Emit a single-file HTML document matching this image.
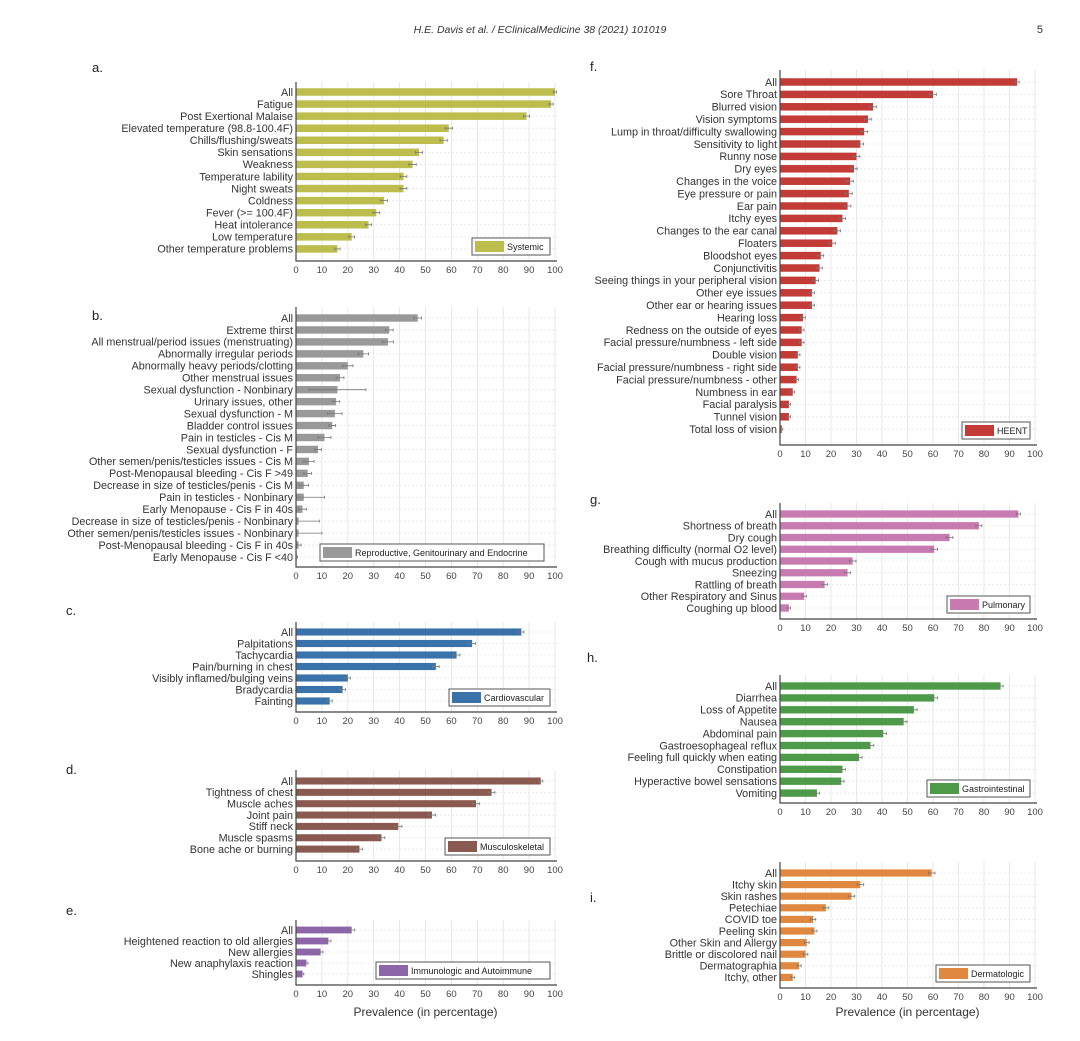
<!DOCTYPE html>
<html><head><meta charset="utf-8"><style>
html,body{margin:0;padding:0;background:#fff;width:1080px;height:1041px;overflow:hidden}
svg{display:block;font-family:"Liberation Sans",sans-serif}
</style></head><body>
<svg id="fig" width="1080" height="1041" viewBox="0 0 1080 1041">
<text x="540" y="33" text-anchor="middle" font-size="10.5" font-style="italic" fill="#333">H.E. Davis et al. / EClinicalMedicine 38 (2021) 101019</text>
<text x="1043" y="33" text-anchor="end" font-size="11" fill="#333">5</text>
</svg>
<script>
// ---- data ----
const aCats=["All","Fatigue","Post Exertional Malaise","Elevated temperature (98.8-100.4F)","Chills/flushing/sweats","Skin sensations","Weakness","Temperature lability","Night sweats","Coldness","Fever (>= 100.4F)","Heat intolerance","Low temperature","Other temperature problems"];
const aVals=[100,98.5,89,59,57,47.5,45,41.5,41.5,34,31,28,21.5,16];
const aErr=[0.6,0.8,1.2,1.4,1.4,1.4,1.4,1.3,1.3,1.3,1.3,1.2,1.1,1];
const bCats=["All","Extreme thirst","All menstrual/period issues (menstruating)","Abnormally irregular periods","Abnormally heavy periods/clotting","Other menstrual issues","Sexual dysfunction - Nonbinary","Urinary issues, other","Sexual dysfunction - M","Bladder control issues","Pain in testicles - Cis M","Sexual dysfunction - F","Other semen/penis/testicles issues - Cis M","Post-Menopausal bleeding - Cis F >49","Decrease in size of testicles/penis - Cis M","Pain in testicles - Nonbinary","Early Menopause - Cis F in 40s","Decrease in size of testicles/penis - Nonbinary","Other semen/penis/testicles issues - Nonbinary","Post-Menopausal bleeding - Cis F in 40s","Early Menopause - Cis F <40"];
const bVals=[47,36,35.5,26,20,17,16,15.5,15,14,11,8.5,5,4.5,3,3,2.5,1,1,1,0.3];
const bErr=[1.5,1.5,2.2,2,2,1.5,11,1.3,2.8,1.3,2.5,1.3,2,1.5,1.8,8,1.5,8,9,1,0.3];
const cCats=["All","Palpitations","Tachycardia","Pain/burning in chest","Visibly inflamed/bulging veins","Bradycardia","Fainting"];
const cVals=[87,68,62,54,20,18,13];
const cErr=[1,1.3,1.3,1.3,1.1,1.1,1];
const dCats=["All","Tightness of chest","Muscle aches","Joint pain","Stiff neck","Muscle spasms","Bone ache or burning"];
const dVals=[94.5,75.5,69.5,52.5,39.5,33,24.5];
const dErr=[0.8,1.3,1.3,1.4,1.4,1.3,1.2];
const eCats=["All","Heightened reaction to old allergies","New allergies","New anaphylaxis reaction","Shingles"];
const eVals=[21.5,12.5,9.5,4,2.5];
const eErr=[1.2,1,0.9,0.6,0.5];
const fCats=["All","Sore Throat","Blurred vision","Vision symptoms","Lump in throat/difficulty swallowing","Sensitivity to light","Runny nose","Dry eyes","Changes in the voice","Eye pressure or pain","Ear pain","Itchy eyes","Changes to the ear canal","Floaters","Bloodshot eyes","Conjunctivitis","Seeing things in your peripheral vision","Other eye issues","Other ear or hearing issues","Hearing loss","Redness on the outside of eyes","Facial pressure/numbness - left side","Double vision","Facial pressure/numbness - right side","Facial pressure/numbness - other","Numbness in ear","Facial paralysis","Tunnel vision","Total loss of vision"];
const fVals=[93,60,36.5,34.5,33,31.5,30,29,27.5,27,26.5,24.5,22.5,20.5,16,15.5,14,12.5,12.5,9,8.5,8.5,7,7,6.5,5,3.5,3.5,0.7];
const fErr=[0.8,1.3,1.3,1.3,1.3,1.3,1.3,1.3,1.3,1.3,1.3,1.2,1.2,1.2,1.1,1.1,1.1,1,1,0.9,0.9,0.9,0.8,0.8,0.8,0.7,0.6,0.6,0.4];
const gCats=["All","Shortness of breath","Dry cough","Breathing difficulty (normal O2 level)","Cough with mucus production","Sneezing","Rattling of breath","Other Respiratory and Sinus","Coughing up blood"];
const gVals=[93.5,78,66.5,60.5,28.5,26.5,17.5,9.5,3.5];
const gErr=[0.8,1.2,1.3,1.3,1.3,1.2,1.1,0.9,0.6];
const hCats=["All","Diarrhea","Loss of Appetite","Nausea","Abdominal pain","Gastroesophageal reflux","Feeling full quickly when eating","Constipation","Hyperactive bowel sensations","Vomiting"];
const hVals=[86.5,60.5,52.5,48.5,40.5,35.5,31,24.5,24,14.5];
const hErr=[1,1.3,1.3,1.3,1.3,1.3,1.2,1.1,1.1,1];
const iCats=["All","Itchy skin","Skin rashes","Petechiae","COVID toe","Peeling skin","Other Skin and Allergy","Brittle or discolored nail","Dermatographia","Itchy, other"];
const iVals=[59.5,31.5,28,18,13,13.5,10.5,10,7.5,5];
const iErr=[1.3,1.3,1.3,1.1,1,1,0.9,0.9,0.8,0.7];
const tickVals=[0,10,20,30,40,50,60,70,80,90,100];

// ---- layout ----
const panels=[
 {id:"a",cats:aCats,vals:aVals,err:aErr,color:"#bcbd4c",legend:"Systemic",x0:296,x1:555,top:82,first:92,step:12.07,bottom:261,lab:[92,72],lw:78},
 {id:"b",cats:bCats,vals:bVals,err:bErr,color:"#999999",legend:"Reproductive, Genitourinary and Endocrine",x0:296,x1:555,top:307,first:318,step:11.95,bottom:567,lab:[92,320],lw:224,lr:544},
 {id:"c",cats:cCats,vals:cVals,err:cErr,color:"#3a72ab",legend:"Cardiovascular",x0:296,x1:555,top:622,first:632,step:11.5,bottom:712,lab:[66,615],lw:101},
 {id:"d",cats:dCats,vals:dVals,err:dErr,color:"#8a5a50",legend:"Musculoskeletal",x0:296,x1:555,top:770,first:781,step:11.35,bottom:861,lab:[66,774],lw:105},
 {id:"e",cats:eCats,vals:eVals,err:eErr,color:"#8c66a8",legend:"Immunologic and Autoimmune",x0:296,x1:555,top:920,first:930,step:11,bottom:985,lab:[66,915],lw:174,xtitle:true},
 {id:"f",cats:fCats,vals:fVals,err:fErr,color:"#c23b37",legend:"HEENT",x0:780,x1:1035,top:70,first:82,step:12.4,bottom:445,lab:[590,71],lw:68},
 {id:"g",cats:gCats,vals:gVals,err:gErr,color:"#c87bb0",legend:"Pulmonary",x0:780,x1:1035,top:503,first:514,step:11.75,bottom:619,lab:[590,504],lw:83},
 {id:"h",cats:hCats,vals:hVals,err:hErr,color:"#4d9b48",legend:"Gastrointestinal",x0:780,x1:1035,top:675,first:686,step:11.9,bottom:803,lab:[587,662],lw:103},
 {id:"i",cats:iCats,vals:iVals,err:iErr,color:"#e0883f",legend:"Dermatologic",x0:780,x1:1035,top:862,first:873,step:11.6,bottom:988,lab:[590,902],lw:94,xtitle:true}
];
const NS="http://www.w3.org/2000/svg";
const svg=document.getElementById("fig");
function mk(tag,attrs,parent,txt){const e=document.createElementNS(NS,tag);for(const k in attrs)e.setAttribute(k,attrs[k]);if(txt!==undefined)e.textContent=txt;(parent||svg).appendChild(e);return e;}

panels.forEach(p=>{
  const g=mk("g",{});
  
  
  const xs=v=>p.x0+(p.x1-p.x0)*v/100;
  const ys=i=>p.first+i*p.step;
  const lbl=mk("text",{x:p.lab[0],y:p.lab[1],"font-size":13,fill:"#222"},g,p.id+".");
  
  
  // grid
  tickVals.forEach(t=>{
    if(t>0){const gl=mk("line",{x1:xs(t),x2:xs(t),y1:p.top,y2:p.bottom,stroke:"#e2e2e2","stroke-width":0.8},g);
    
    }
    const tl=mk("text",{x:xs(t),y:p.bottom+12,"font-size":9.5,fill:"#444","text-anchor":"middle"},g,String(t));
    
    
  });
  p.cats.forEach((c,i)=>{
    const hl=mk("line",{x1:p.x0,x2:p.x1+2,y1:ys(i),y2:ys(i),stroke:"#e6e6e6","stroke-width":0.8,"stroke-dasharray":"2,2"},g);
    
    
  });
  // bars
  const bh=Math.min(7.5,p.step*0.62);
  p.cats.forEach((c,i)=>{
    const y=ys(i),v=p.vals[i],e=p.err[i];
    const r=mk("rect",{x:p.x0,y:y-bh/2,width:Math.max(0.5,xs(v)-p.x0),height:bh,fill:p.color},g);
    
    
    const eb=mk("path",{d:`M${xs(Math.max(0,v-e))},${y}H${xs(v+e)}M${xs(Math.max(0,v-e))},${y-1.5}v3M${xs(v+e)},${y-1.5}v3`,stroke:"#777","stroke-width":0.8,fill:"none"},g);
    
    
    const t=mk("text",{x:p.x0-3,y:y+3.8,"font-size":10.8,fill:"#333","text-anchor":"end"},g,c);
    
    
  });
  // axes
  const ax=mk("path",{d:`M${p.x0},${p.top}V${p.bottom}H${p.x1+2}`,stroke:"#444","stroke-width":1.2,fill:"none"},g);
  
  
  // legend
  const lr=p.lr||(p.x1-5), lb=p.bottom-6, lh=17, lx=lr-p.lw, ly=lb-lh;
  const lg=mk("g",{},g);
  
  
  mk("rect",{x:lx,y:ly,width:p.lw,height:lh,fill:"#fff",stroke:"#555","stroke-width":1},lg);
  mk("rect",{x:lx+3,y:ly+3,width:29,height:lh-6,fill:p.color},lg);
  mk("text",{x:lx+35,y:ly+12,"font-size":9,fill:"#222"},lg,p.legend);
  if(p.xtitle){
    const xt=mk("text",{x:(p.x0+p.x1)/2,y:1016,"font-size":12,fill:"#333","text-anchor":"middle"},g,"Prevalence (in percentage)");
    
    
  }
});
</script>
</body></html>
